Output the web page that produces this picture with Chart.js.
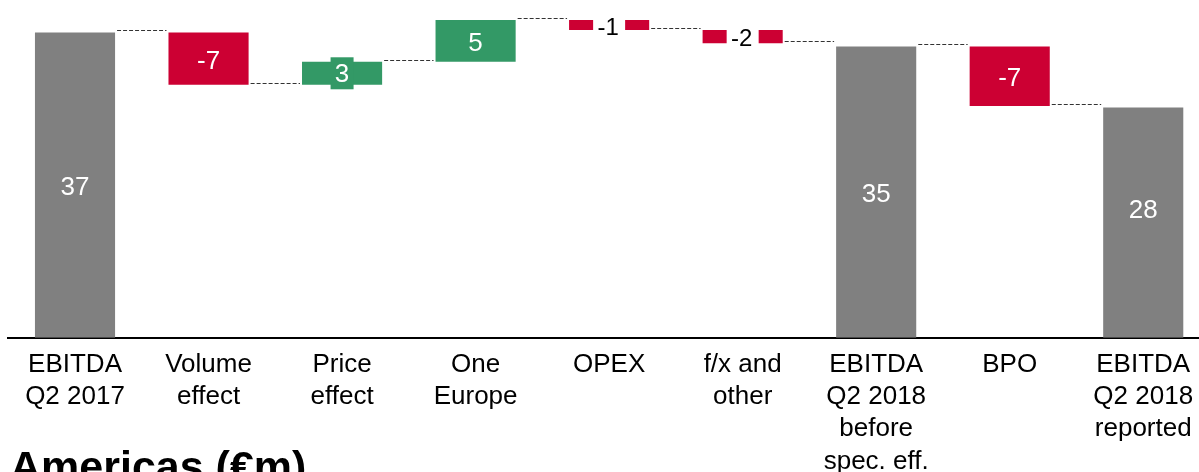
<!DOCTYPE html>
<html><head><meta charset="utf-8">
<script src="https://cdn.jsdelivr.net/npm/chart.js@4.4.1/dist/chart.umd.min.js"></script>
<style>
html,body{margin:0;padding:0;background:#fff;overflow:hidden;}
#wrap{position:relative;width:1210px;height:472px;}
#title{position:absolute;left:10px;top:445px;font:bold 43px 'Liberation Sans',Arial,sans-serif;line-height:43px;color:#000;white-space:nowrap;}
</style></head><body>
<div id="wrap"><canvas id="c"></canvas><div id="title">Americas (€m)</div></div>
<script>
// ---- data ----
const categories = [
  ['EBITDA','Q2 2017'],
  ['Volume','effect'],
  ['Price','effect'],
  ['One','Europe'],
  'OPEX',
  ['f/x and','other'],
  ['EBITDA','Q2 2018','before','spec. eff.'],
  'BPO',
  ['EBITDA','Q2 2018','reported']
];
const stepKinds  = ['total','delta','delta','delta','delta','delta','total','delta','total'];
const stepValues = [37.0, -6.35, 2.8, 5.05, -1.2, -1.6, 35.3, -7.2, 27.9];
const valueLabels = ['37','-7','3','5','-1','-2','35','-7','28'];

// ---- styles ----
const GRAY = '#808080', RED = '#CC0033', GREEN = '#339966';
const labelModes = ['in','in','boxed','in','cut','cut','in','in','in'];
const labelShift = [0,0,0,0,0,0,0,0,-15];
const FONT = "'Liberation Sans', Arial, sans-serif";

// build floating ranges from the steps
const ranges = [], ends = [], colors = [];
let running = 0;
stepValues.forEach((v, i) => {
  if (stepKinds[i] === 'total') { ranges.push([0, v]); running = v; colors.push(GRAY); }
  else { ranges.push([running, running + v]); running += v; colors.push(v < 0 ? RED : GREEN); }
  ends.push(running);
});

const waterfallPlugin = {
  id: 'waterfall',
  afterDatasetsDraw(chart) {
    const ctx = chart.ctx;
    const meta = chart.getDatasetMeta(0);
    const ys = chart.scales.y;
    ctx.save();
    // connectors
    ctx.strokeStyle = '#333';
    ctx.lineWidth = 1;
    ctx.setLineDash([4, 2]);
    for (let i = 0; i < meta.data.length - 1; i++) {
      const a = meta.data[i], b = meta.data[i + 1];
      const y = Math.round(ys.getPixelForValue(ends[i])) - 1.5;
      ctx.beginPath();
      ctx.moveTo(a.x + a.width / 2 + 2, y);
      ctx.lineTo(b.x - b.width / 2 - 2, y);
      ctx.stroke();
    }
    ctx.setLineDash([]);
    // value labels
    ctx.textAlign = 'center';
    ctx.textBaseline = 'middle';
    meta.data.forEach((el, i) => {
      const cx = el.x;
      const cy = (el.y + el.base) / 2 + labelShift[i];
      const mode = labelModes[i];
      if (mode === 'boxed') {
        ctx.fillStyle = colors[i];
        ctx.fillRect(cx - 11.5, cy - 16, 23, 32);
        ctx.font = '26px ' + FONT;
        ctx.fillStyle = '#fff';
        ctx.fillText(valueLabels[i], cx, cy + 2);
      } else if (mode === 'cut') {
        ctx.fillStyle = '#fff';
        ctx.fillRect(cx - 16, cy - 12, 32, 24);
        ctx.font = '24px ' + FONT;
        ctx.fillStyle = '#000';
        ctx.fillText(valueLabels[i], cx - 1, cy + 3);
      } else {
        ctx.font = '26px ' + FONT;
        ctx.fillStyle = '#fff';
        ctx.fillText(valueLabels[i], cx, cy + 3);
      }
    });
    ctx.restore();
  }
};

new Chart(document.getElementById('c'), {
  type: 'bar',
  data: {
    labels: categories,
    datasets: [{
      data: ranges,
      backgroundColor: colors,
      borderWidth: 0,
      barPercentage: 0.6,
      categoryPercentage: 1.0
    }]
  },
  options: {
    responsive: true,
    maintainAspectRatio: false,
    animation: false,
    layout: { padding: { left: 8.25, top: 7.7, right: 0, bottom: 0 } },
    plugins: { legend: { display: false }, tooltip: { enabled: false }, title: { display: false } },
    scales: {
      x: {
        grid: { display: false, drawTicks: false },
        border: { display: true, color: '#000', width: 2 },
        ticks: {
          color: '#000',
          padding: 11,
          maxRotation: 0,
          autoSkip: false,
          font: { family: FONT, size: 26, lineHeight: 1.24 }
        },
        afterFit(scale) { scale.height = 134.3; }
      },
      y: {
        display: false,
        min: 0,
        max: 40
      }
    }
  },
  plugins: [waterfallPlugin]
});
</script>
</body></html>
